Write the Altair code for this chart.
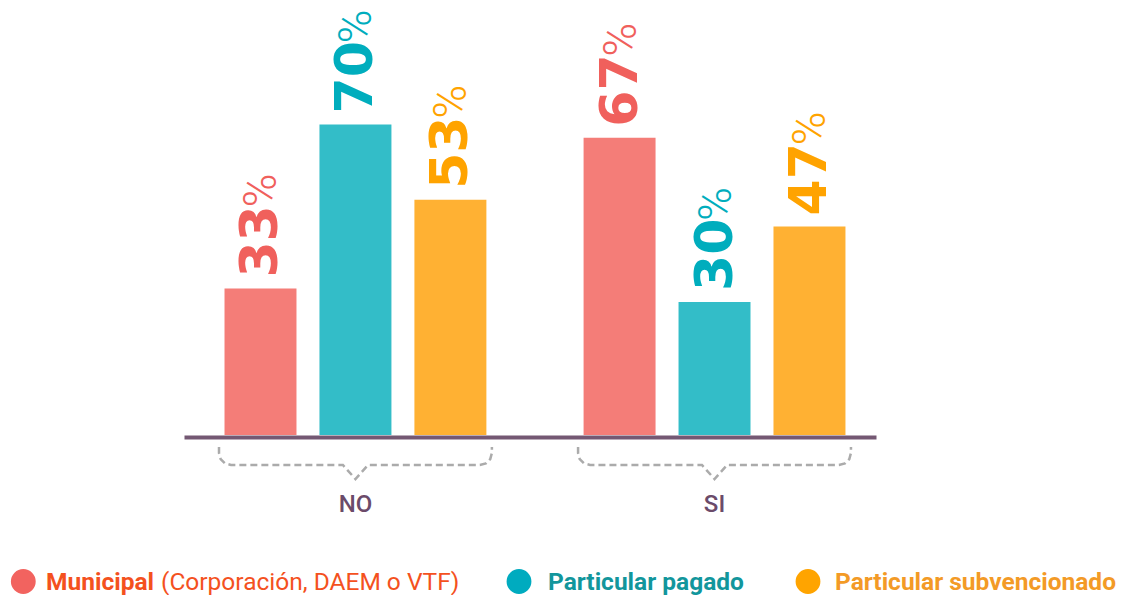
import altair as alt
import pandas as pd

GROUPS = ["NO", "SI"]
SERIES = ["Municipal", "Particular pagado", "Particular subvencionado"]
VALUES_NO = [33, 70, 53]
VALUES_SI = [67, 30, 47]

BAR_COLORS = ["#F47D78", "#33BDC8", "#FFB133"]
LABEL_COLORS = ["#F0605C", "#00ADBD", "#FFA300"]
LEGEND_DOT = ["#F2635F", "#00ABBF", "#FFA400"]
LEGEND_TEXT = ["#F4511E", "#12969C", "#F39A26"]
LEGEND_NOTE = "(Corporación, DAEM o VTF)"

# brace outline, as a fraction of the group band (t) and in value units below zero (y)
BRACE_T = [0.0, 0.0, 0.006, 0.022, 0.044, 0.454, 0.5, 0.546, 0.956, 0.978, 0.994, 1.0, 1.0]
BRACE_Y = [-2.70, -4.06, -5.41, -6.40, -6.76, -6.76, -9.92, -6.76, -6.76, -6.40, -5.41, -4.06, -2.70]

rows = []
for g, vals in zip(GROUPS, [VALUES_NO, VALUES_SI]):
    for s, v in zip(SERIES, vals):
        rows.append({"group": g, "series": s, "value": v, "num": str(v), "pct": "%"})
df = pd.DataFrame(rows)

brace_rows = []
for g in GROUPS:
    for i, (t, y) in enumerate(zip(BRACE_T, BRACE_Y)):
        brace_rows.append({"group": g, "t": t, "y": y, "i": i})
brace_df = pd.DataFrame(brace_rows)

x_enc = alt.X(
    "group:N",
    sort=GROUPS,
    scale=alt.Scale(paddingInner=0.24, paddingOuter=0.0836, align=0.583),
    axis=alt.Axis(
        title=None, ticks=False, domainColor="#745873", domainWidth=4, offset=2,
        labelPadding=74, labelBaseline="alphabetic", labelAngle=0,
        labelFont="Roboto", labelFontSize=24, labelFontWeight=500,
        labelColor="#6B4B6A", labelAlign="center", grid=False,
    ),
)
xoff_enc = alt.XOffset("series:N", sort=SERIES,
                       scale=alt.Scale(paddingInner=0.242, paddingOuter=0.058))
y_enc = alt.Y("value:Q", scale=alt.Scale(domain=[0, 80], nice=False, zero=True), axis=None)
label_color = alt.Color("series:N", sort=SERIES,
                        scale=alt.Scale(domain=SERIES, range=LABEL_COLORS), legend=None)

bars = alt.Chart(df).mark_bar().encode(
    x=x_enc, xOffset=xoff_enc, y=y_enc,
    fill=alt.Fill("series:N", sort=SERIES,
                  scale=alt.Scale(domain=SERIES, range=BAR_COLORS), legend=None),
)

nums = alt.Chart(df).mark_text(
    angle=270, align="left", baseline="alphabetic", font="DejaVu Sans",
    fontWeight="bold", fontSize=52, dx=11, dy=17,
).encode(x=x_enc, xOffset=xoff_enc, y=y_enc, text="num:N", color=label_color)

pcts = alt.Chart(df).mark_text(
    angle=270, align="left", baseline="alphabetic", font="Roboto",
    fontWeight=300, fontSize=46, dx=81, dy=16,
).encode(x=x_enc, xOffset=xoff_enc, y=y_enc, text="pct:N", color=label_color)

bar_group = alt.layer(bars, nums, pcts)

brace = alt.Chart(brace_df).mark_line(
    color="#ABABAB", strokeWidth=2.5, strokeDash=[7, 4], clip=False,
).encode(
    x=x_enc,
    xOffset=alt.XOffset("t:Q", scale=alt.Scale(domain=[0, 1], nice=False, zero=False)),
    y=alt.Y("y:Q", scale=alt.Scale(domain=[0, 80], nice=False, zero=True), axis=None),
    detail="group:N",
    order="i:Q",
)

# custom legend (positions relative to plot origin)
DOT_X = [-160.7, 335, 624]
TXT_X = [-138, 364, 651]
NOTE_X = -23
LEG_Y_DOT = 501.5
LEG_Y_TXT = 510
LEG_FONT = 24.5
one = pd.DataFrame([{"k": 0}])
legend_layers = []
for i in range(3):
    legend_layers.append(
        alt.Chart(one).mark_circle(size=616, opacity=1, color=LEGEND_DOT[i]).encode(
            x=alt.value(DOT_X[i]), y=alt.value(LEG_Y_DOT))
    )
    legend_layers.append(
        alt.Chart(one).mark_text(
            text=SERIES[i], align="left", baseline="alphabetic", font="Roboto",
            fontWeight="bold", fontSize=LEG_FONT, color=LEGEND_TEXT[i],
        ).encode(x=alt.value(TXT_X[i]), y=alt.value(LEG_Y_TXT))
    )
legend_layers.append(
    alt.Chart(one).mark_text(
        text=LEGEND_NOTE, align="left", baseline="alphabetic", font="Roboto",
        fontWeight="normal", fontSize=LEG_FONT, color=LEGEND_TEXT[0],
    ).encode(x=alt.value(NOTE_X), y=alt.value(LEG_Y_TXT))
)

chart = alt.layer(bar_group, brace, *legend_layers).resolve_scale(
    xOffset="independent"
).properties(
    width=692, height=355,
    autosize=alt.AutoSizeParams(type="none"),
    padding={"left": 176, "top": 72, "right": 241, "bottom": 160},
    background="white",
).configure_view(stroke=None)

chart.save("out.html", embed_options={"renderer": "svg", "actions": False})
